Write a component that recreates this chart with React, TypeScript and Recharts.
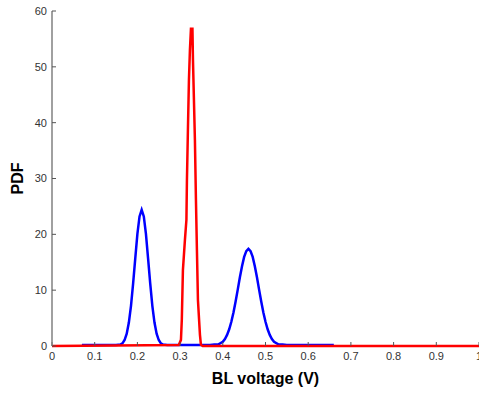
import React from 'react';
import { LineChart, Line, XAxis, YAxis } from 'recharts';

const xTicks = [0, 0.1, 0.2, 0.3, 0.4, 0.5, 0.6, 0.7, 0.8, 0.9, 1];
const yTicks = [0, 10, 20, 30, 40, 50, 60];

const blueX = [0.07, 0.15, 0.16, 0.165, 0.17, 0.175, 0.18, 0.185, 0.19, 0.195, 0.2, 0.205, 0.21, 0.215, 0.22, 0.225, 0.23, 0.235, 0.24, 0.245, 0.25, 0.255, 0.26, 0.27, 0.37, 0.38, 0.39, 0.4, 0.405, 0.41, 0.415, 0.42, 0.425, 0.43, 0.435, 0.44, 0.445, 0.45, 0.455, 0.46, 0.465, 0.47, 0.475, 0.48, 0.485, 0.49, 0.495, 0.5, 0.505, 0.51, 0.515, 0.52, 0.53, 0.54, 0.55, 0.66];
const blueY = [0.2, 0.2, 0.25, 0.47, 1.07, 2.2, 4.2, 7.2, 11.2, 15.7, 20.1, 23.2, 24.4, 23.2, 20.1, 15.7, 11.2, 7.2, 4.2, 2.2, 1.07, 0.47, 0.25, 0.2, 0.2, 0.25, 0.3, 0.77, 1.26, 1.98, 3.0, 4.34, 6.0, 7.97, 10.1, 12.3, 14.3, 15.96, 17.0, 17.4, 17.0, 15.96, 14.3, 12.3, 10.1, 7.97, 6.0, 4.34, 3.0, 1.98, 1.26, 0.77, 0.3, 0.25, 0.2, 0.2];

const redX = [0, 0.297, 0.302, 0.304, 0.3066, 0.3113, 0.3148, 0.316, 0.3183, 0.3207, 0.323, 0.3254, 0.3289, 0.3301, 0.3324, 0.3347, 0.3371, 0.3394, 0.3418, 0.3465, 0.3488, 0.353, 1];
const redY = [0, 0.2, 1.1, 4.7, 13.6, 19.0, 22.6, 29.7, 38.7, 47.7, 53.0, 56.8, 56.8, 51.3, 44.1, 36.9, 26.2, 17.2, 8.2, 2.0, 0.2, 0, 0];

const blueData = blueX.map((x, i) => ({ x, y: blueY[i] }));
const redData = redX.map((x, i) => ({ x, y: redY[i] }));

const tickStyle = { fontFamily: 'Liberation Sans, Arial, sans-serif', fontSize: 11, fill: '#333' };

export default function App() {
  return (
    <div style={{ position: 'absolute', left: 0, top: 0, background: '#fff' }}>
      <LineChart width={479} height={395} margin={{ top: 11, right: 0, left: 0, bottom: 0 }}>
        <XAxis
          type="number"
          dataKey="x"
          domain={[0, 1]}
          ticks={xTicks}
          tickFormatter={(v: number) => String(v)}
          height={49}
          axisLine={false}
          tickLine={{ stroke: '#555' }}
          tickSize={-4}
          tickMargin={10}
          tick={tickStyle}
          interval={0}
          label={{ value: 'BL voltage (V)', position: 'insideBottom', offset: 11, style: { fontFamily: 'Liberation Sans, Arial, sans-serif', fontSize: 16, fontWeight: 'bold', fill: '#000' } }}
        />
        <YAxis
          type="number"
          domain={[0, 60]}
          ticks={yTicks}
          width={52}
          axisLine={{ stroke: '#808080', strokeWidth: 1.5 }}
          tickLine={{ stroke: '#555' }}
          tickSize={-4}
          tickMargin={9}
          tick={tickStyle}
          interval={0}
          label={{ value: 'PDF', angle: -90, position: 'insideLeft', offset: 17, style: { fontFamily: 'Liberation Sans, Arial, sans-serif', fontSize: 16, fontWeight: 'bold', fill: '#000', textAnchor: 'middle' } }}
        />
        <Line data={blueData} dataKey="y" type="linear" stroke="#0000ff" strokeWidth={2.5} dot={false} isAnimationActive={false} />
        <Line data={redData} dataKey="y" type="linear" stroke="#ff0000" strokeWidth={2.5} dot={false} isAnimationActive={false} />
      </LineChart>
    </div>
  );
}
